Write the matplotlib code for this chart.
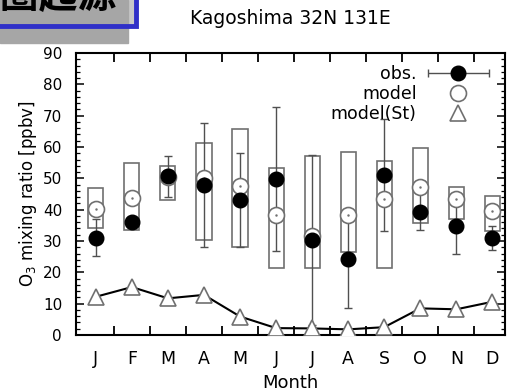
import numpy as np
import matplotlib
matplotlib.use('Agg')
import matplotlib.pyplot as plt
from matplotlib.lines import Line2D
from matplotlib.patches import Rectangle
from matplotlib.container import ErrorbarContainer
from matplotlib.legend_handler import HandlerErrorbar

plt.rcParams['font.family'] = ['DejaVu Sans', 'Noto Sans CJK JP']

months = np.arange(1, 13)
month_lbl = ['J', 'F', 'M', 'A', 'M', 'J', 'J', 'A', 'S', 'O', 'N', 'D']

# observed monthly mean and error
obs     = [31.1, 36.0, 50.6, 47.9, 43.1, 49.8, 30.3, 24.2, 51.1, 39.4, 34.8, 30.9]
obs_err = [5.8, 1.5, 6.5, 19.7, 15.0, 22.9, 27.2, 15.7, 17.8, 5.9, 8.9, 3.8]
# model mean and range (boxes)
model   = [40.1, 43.6, 50.4, 50.0, 47.6, 38.3, 31.6, 38.3, 43.4, 47.1, 43.3, 39.7]
box_hi  = [47.0, 54.8, 54.0, 61.2, 65.7, 53.4, 57.1, 58.5, 55.5, 59.6, 47.1, 44.4]
box_lo  = [34.0, 33.5, 43.1, 30.3, 28.2, 21.3, 21.3, 26.6, 21.3, 35.6, 36.9, 33.3]
# stratospheric contribution
model_st = [12.2, 15.3, 11.7, 12.8, 5.9, 2.2, 2.1, 1.8, 2.5, 8.5, 8.2, 10.6]

fig = plt.figure(figsize=(5.11, 3.92), dpi=100)
ax  = plt.axes([76/511., 57/392., 429/511., 282/392.])

gcol = '#707070'
box_lo = np.array(box_lo)
box_hi = np.array(box_hi)
ax.bar(months, box_hi-box_lo, bottom=box_lo, width=0.42, fill=False,
       edgecolor=gcol, linewidth=1.2, zorder=2)
ax.errorbar(months, obs, yerr=obs_err, fmt='none', ecolor='#505050',
            elinewidth=1.0, capsize=3.2, capthick=1.0, zorder=3)
ax.plot(months, model, linestyle='None', marker='o', ms=11.5, mfc='white',
        mec=gcol, mew=1.2, zorder=4)
ax.plot(months, model, linestyle='None', marker='.', ms=1.5, color=gcol, zorder=4)
ax.plot(months, obs, linestyle='None', marker='o', ms=10.5, color='k', zorder=5)
ax.plot(months, model_st, color='k', lw=1.5, zorder=3)
ax.plot(months, model_st, linestyle='None', marker='^', ms=11, mfc='white',
        mec=gcol, mew=1.2, zorder=4)

ax.set_xlim(0.45, 12.35)
ax.set_ylim(0, 90)
ax.set_xticks(months)
ax.set_xticklabels(month_lbl, fontsize=12.5)
ax.set_xticks(np.arange(1.5, 12.5, 1.0), minor=True)
ax.tick_params(axis='x', which='major', length=0, pad=11)
ax.tick_params(axis='x', which='minor', direction='in', length=6.5, width=1.3,
               top=True, bottom=True)
ax.set_yticks(np.arange(0, 91, 10))
ax.set_yticks(np.arange(0, 91, 2), minor=True)
ax.tick_params(axis='y', which='both', direction='in', left=True, right=True,
               labelsize=11, pad=10)
ax.tick_params(axis='y', which='major', length=6, width=1.1)
ax.tick_params(axis='y', which='minor', length=3, width=0.9)
for s in ax.spines.values():
    s.set_linewidth(1.5)

ax.set_xlabel('Month', fontsize=13, labelpad=4)
ax.set_ylabel('O$_3$ mixing ratio [ppbv]', fontsize=12, labelpad=3)
ax.set_title('Kagoshima 32N 131E', fontsize=13.5, pad=21)

# legend
h_obs = ax.errorbar([np.nan], [np.nan], xerr=[1.0], fmt='o', color='k', ms=10.5,
                    ecolor='#505050', elinewidth=1.0, capsize=3.2)
h_mod = Line2D([], [], linestyle='None', marker='o', ms=11.5, mfc='white', mec=gcol, mew=1.2)
h_st  = Line2D([], [], linestyle='None', marker='^', ms=11, mfc='white', mec=gcol, mew=1.2)
ax.legend([h_obs, h_mod, h_st], ['obs.', 'model', 'model(St)'], loc='upper right',
          bbox_to_anchor=(1 - 5/429., 1.0),
          frameon=False, markerfirst=False, fontsize=12.5, handlelength=3.4,
          handletextpad=0.7, labelspacing=0.1, borderaxespad=0.3,
          handler_map={ErrorbarContainer: HandlerErrorbar(xerr_size=1.75)})

# cropped banner in the top left corner
fig.patches.append(Rectangle((-5, 392-27), 141, 32, transform=None, facecolor='#c8c8c8',
                             edgecolor='none', zorder=0))
fig.patches.append(Rectangle((0, 392-43), 128, 43, transform=None, color='#a6a6a6', zorder=1))
fig.patches.append(Rectangle((-5, 392-26), 141, 32, transform=None, fill=False,
                             edgecolor='#3030c8', linewidth=3.5, zorder=2))
fig.text(116/511., 1 - 8/392., '成層圏起源', ha='right', va='baseline', fontsize=28,
         fontweight='bold', family=['Noto Sans CJK JP'], zorder=3)

plt.savefig('out.png', dpi=100)
